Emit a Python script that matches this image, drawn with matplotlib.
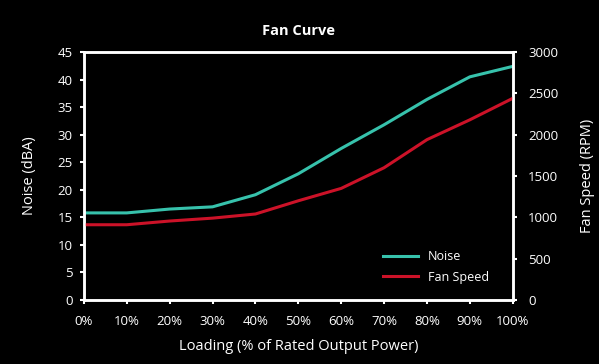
import matplotlib
matplotlib.use("Agg")
import matplotlib.pyplot as plt

loading = [0, 10, 20, 30, 40, 50, 60, 70, 80, 90, 100]
tick_labels = ["0%", "10%", "20%", "30%", "40%", "50%", "60%", "70%", "80%", "90%", "100%"]
noise = [15.8, 15.8, 16.5, 16.9, 19.1, 22.9, 27.5, 31.8, 36.4, 40.5, 42.4]
fan_speed = [910, 910, 955, 990, 1040, 1200, 1350, 1600, 1940, 2180, 2440]

plt.rcParams['font.family'] = ['Open Sans', 'DejaVu Sans']
fg = "white"
teal = "#37c2ac"
red = "#cc1228"

fig = plt.figure(figsize=(5.99, 3.64), dpi=100, facecolor="black")
ax = fig.add_axes([0.140, 0.176, 0.716, 0.681], facecolor="black")
ax2 = ax.twinx()

l1, = ax.plot(loading, noise, color=teal, lw=2.2, label="Noise")
l2, = ax2.plot(loading, fan_speed, color=red, lw=2.2, label="Fan Speed")

ax.set_xlim(0, 100)
ax.set_ylim(0, 45)
ax2.set_ylim(0, 3000)
ax.set_xticks(loading)
ax.set_xticklabels(tick_labels)
ax.set_yticks(range(0, 50, 5))
ax2.set_yticks(range(0, 3500, 500))

for a in (ax, ax2):
    for s in a.spines.values():
        s.set_color(fg)
        s.set_linewidth(1.8)
    a.tick_params(colors=fg, labelsize=9.5, length=3, width=1.5, direction="out")
ax.tick_params(axis="x", pad=8)
ax.tick_params(axis="y", pad=5)
ax2.tick_params(axis="y", pad=8)

ax.set_xlabel("Loading (% of Rated Output Power)", color=fg, fontsize=10.5, labelpad=8)
ax.set_ylabel("Noise (dBA)", color=fg, fontsize=10.5, labelpad=15)
ax2.set_ylabel("Fan Speed (RPM)", color=fg, fontsize=10.5, labelpad=16)
ax.set_title("Fan Curve", color=fg, fontsize=10.5, fontweight="bold", pad=12)

leg = ax.legend(handles=[l1, l2], loc="lower right", bbox_to_anchor=(0.97, 0.02),
                frameon=False, fontsize=9, handlelength=2.8, labelspacing=0.6)
for t in leg.get_texts():
    t.set_color(fg)

fig.savefig("out.png", dpi=100, facecolor="black")
